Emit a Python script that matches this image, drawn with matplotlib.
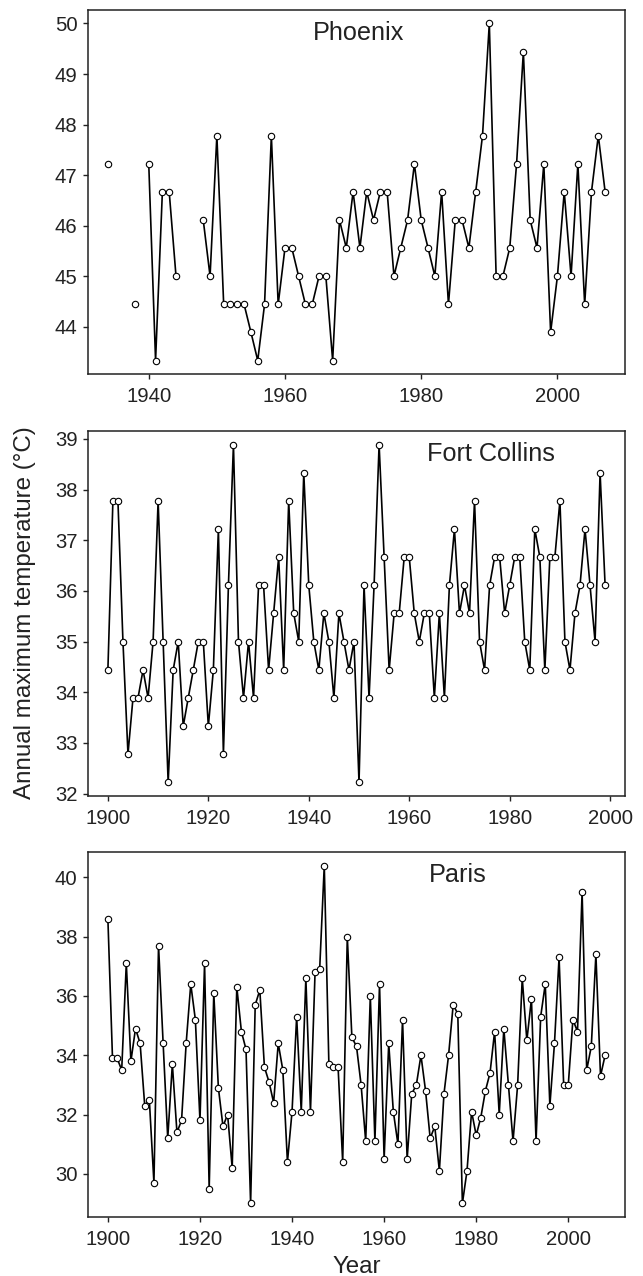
import numpy as np
import matplotlib.pyplot as plt
from matplotlib.ticker import MultipleLocator

plt.rcParams["font.family"] = ["Liberation Sans", "DejaVu Sans"]
plt.rcParams["text.color"] = "#222222"

nan = np.nan

# annual maximum temperatures, degC (nan = year missing from the record)
phoenix_years = np.arange(1934, 2008)
phoenix_temp = [
    47.22, nan, nan, nan, 44.44, nan,
    47.22, 43.33, 46.67, 46.67, 45.00, nan, nan, nan, 46.11, 45.00,
    47.78, 44.44, 44.44, 44.44, 44.44, 43.89, 43.33, 44.44, 47.78, 44.44,
    45.56, 45.56, 45.00, 44.44, 44.44, 45.00, 45.00, 43.33, 46.11, 45.56,
    46.67, 45.56, 46.67, 46.11, 46.67, 46.67, 45.00, 45.56, 46.11, 47.22,
    46.11, 45.56, 45.00, 46.67, 44.44, 46.11, 46.11, 45.56, 46.67, 47.78,
    50.00, 45.00, 45.00, 45.56, 47.22, 49.44, 46.11, 45.56, 47.22, 43.89,
    45.00, 46.67, 45.00, 47.22, 44.44, 46.67, 47.78, 46.67,
]

fortcollins_years = np.arange(1900, 2000)
fortcollins_temp = [
    34.44, 37.78, 37.78, 35.00, 32.78, 33.89, 33.89, 34.44, 33.89, 35.00,
    37.78, 35.00, 32.22, 34.44, 35.00, 33.33, 33.89, 34.44, 35.00, 35.00,
    33.33, 34.44, 37.22, 32.78, 36.11, 38.89, 35.00, 33.89, 35.00, 33.89,
    36.11, 36.11, 34.44, 35.56, 36.67, 34.44, 37.78, 35.56, 35.00, 38.33,
    36.11, 35.00, 34.44, 35.56, 35.00, 33.89, 35.56, 35.00, 34.44, 35.00,
    32.22, 36.11, 33.89, 36.11, 38.89, 36.67, 34.44, 35.56, 35.56, 36.67,
    36.67, 35.56, 35.00, 35.56, 35.56, 33.89, 35.56, 33.89, 36.11, 37.22,
    35.56, 36.11, 35.56, 37.78, 35.00, 34.44, 36.11, 36.67, 36.67, 35.56,
    36.11, 36.67, 36.67, 35.00, 34.44, 37.22, 36.67, 34.44, 36.67, 36.67,
    37.78, 35.00, 34.44, 35.56, 36.11, 37.22, 36.11, 35.00, 38.33, 36.11,
]

paris_years = np.arange(1900, 2009)
paris_temp = [
    38.6, 33.9, 33.9, 33.5, 37.1, 33.8, 34.9, 34.4, 32.3, 32.5,
    29.7, 37.7, 34.4, 31.2, 33.7, 31.4, 31.8, 34.4, 36.4, 35.2,
    31.8, 37.1, 29.5, 36.1, 32.9, 31.6, 32.0, 30.2, 36.3, 34.8,
    34.2, 29.0, 35.7, 36.2, 33.6, 33.1, 32.4, 34.4, 33.5, 30.4,
    32.1, 35.3, 32.1, 36.6, 32.1, 36.8, 36.9, 40.4, 33.7, 33.6,
    33.6, 30.4, 38.0, 34.6, 34.3, 33.0, 31.1, 36.0, 31.1, 36.4,
    30.5, 34.4, 32.1, 31.0, 35.2, 30.5, 32.7, 33.0, 34.0, 32.8,
    31.2, 31.6, 30.1, 32.7, 34.0, 35.7, 35.4, 29.0, 30.1, 32.1,
    31.3, 31.9, 32.8, 33.4, 34.8, 32.0, 34.9, 33.0, 31.1, 33.0,
    36.6, 34.5, 35.9, 31.1, 35.3, 36.4, 32.3, 34.4, 37.3, 33.0,
    33.0, 35.2, 34.8, 39.5, 33.5, 34.3, 37.4, 33.3, 34.0,
]

W, H = 643, 1276
fig = plt.figure(figsize=(W / 100, H / 100), dpi=100)

# panel boxes in pixels: (left, top, right, bottom)
boxes = [(88, 10, 625, 374), (88, 431, 625, 796), (88, 852, 625, 1217)]

panels = [
    ("Phoenix", phoenix_years, phoenix_temp, 0.419, 1, [1940, 1960, 1980, 2000]),
    ("Fort Collins", fortcollins_years, fortcollins_temp, 0.632, 1, range(1900, 2001, 20)),
    ("Paris", paris_years, paris_temp, 0.634, 2, range(1900, 2001, 20)),
]

for (l, t, r, b), (name, years, temps, name_x, ystep, xticks) in zip(boxes, panels):
    ax = fig.add_axes([l / W, 1 - b / H, (r - l) / W, (b - t) / H])
    ax.plot(years, temps, color="black", lw=1.2, marker="o", ms=4.6,
            mfc="white", mec="black", mew=0.8)
    ax.margins(0.04)
    ax.set_xticks(list(xticks))
    ax.yaxis.set_major_locator(MultipleLocator(ystep))
    for s in ax.spines.values():
        s.set_linewidth(1.1)
        s.set_color("#222222")
    ax.tick_params(direction="out", length=3.6, width=1.0, color="#222222",
                   labelsize=14.6, labelcolor="#222222")
    ax.tick_params(axis="x", pad=5.5)
    ax.tick_params(axis="y", pad=4.0)
    ax.text(name_x, 1 - 30 / (b - t), name, transform=ax.transAxes,
            ha="left", va="baseline", fontsize=18.2)

fig.text(356.5 / W, 1 - 1273 / H, "Year", ha="center", va="baseline", fontsize=17.4)
fig.text(25 / W, 1 - 613 / H, "Annual maximum temperature (°C)", rotation=90,
         ha="center", va="center", fontsize=17.4)

fig.savefig("out.png", dpi=100)
